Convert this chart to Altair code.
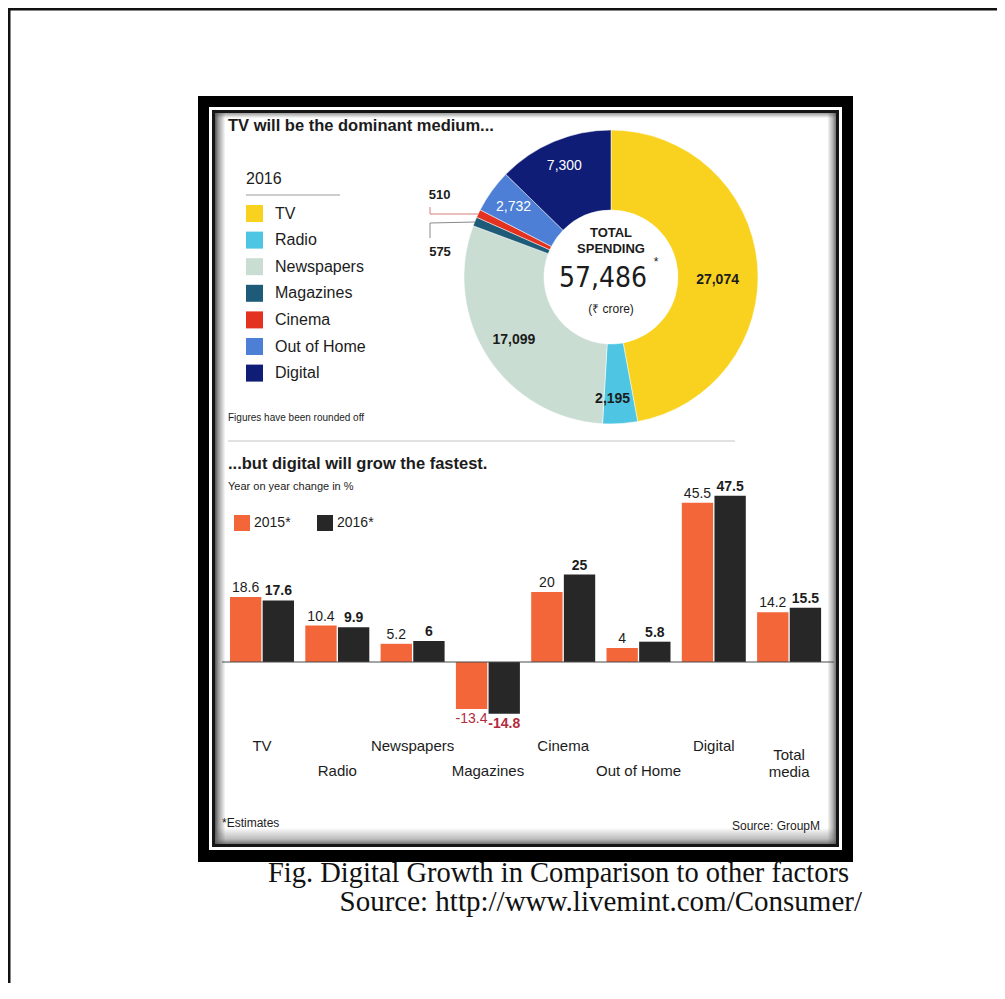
import altair as alt
import pandas as pd

# ---------------- data ----------------
media = ["TV", "Radio", "Newspapers", "Magazines", "Cinema", "Out of Home", "Digital"]
spend_2016 = [27074, 2195, 17099, 575, 510, 2732, 7300]
spend_labels = ["27,074", "2,195", "17,099", "575", "510", "2,732", "7,300"]
media_colors = ["#F9D21F", "#4EC5E2", "#C9DDD3", "#1E5B78", "#E3321F", "#4C7FD5", "#0F1D77"]
total_label = "57,486"

categories = ["TV", "Radio", "Newspapers", "Magazines", "Cinema", "Out of Home", "Digital", "Total media"]
growth_2015 = [18.6, 10.4, 5.2, -13.4, 20, 4, 45.5, 14.2]
growth_2016 = [17.6, 9.9, 6, -14.8, 25, 5.8, 47.5, 15.5]
years = ["2015", "2016"]
year_colors = ["#F3663A", "#272727"]

SANS = "Liberation Sans"
NARROW = "Liberation Sans Narrow, DejaVu Sans Condensed, sans-serif"
SERIF = "Liberation Serif"
DARK = "#1c1c1c"
NEG = "#B32A3C"

donut = pd.DataFrame({"medium": media, "spend": spend_2016, "lbl": spend_labels,
                      "idx": list(range(len(media)))})
bars_df = pd.DataFrame({"cat": categories * 2,
                        "year": [years[0]] * len(categories) + [years[1]] * len(categories),
                        "val": growth_2015 + growth_2016})
one = pd.DataFrame({"k": [0]})


def P(v):
    # page pixel -> chart pixel (page has an 8px margin)
    return v - 8


def box(x1, y1, x2, y2, color):
    return alt.Chart(one).mark_rect(color=color).encode(
        x=alt.value(P(x1)), x2=alt.value(P(x2)), y=alt.value(P(y1)), y2=alt.value(P(y2)))


def rule(x1, y1, x2, y2, color, w=1.0):
    return alt.Chart(one).mark_rule(color=color, strokeWidth=w).encode(
        x=alt.value(P(x1)), x2=alt.value(P(x2)), y=alt.value(P(y1)), y2=alt.value(P(y2)))


def txt(s, x, y, size, weight="normal", color=DARK, align="left", baseline="middle", font=SANS):
    return alt.Chart(one).mark_text(text=s, fontSize=size, fontWeight=weight, color=color,
                                    align=align, baseline=baseline, font=font).encode(
        x=alt.value(P(x)), y=alt.value(P(y)))


layers = []

# page borders (left and top)
layers.append(box(8, 8, 10.5, 990, "#111111"))
layers.append(box(8, 8, 997, 10.5, "#111111"))

# picture frame
layers.append(box(198, 96, 853, 862, "#000000"))
layers.append(box(209, 107, 842, 850, "#ffffff"))
layers.append(box(212, 110, 839, 847, "#151515"))
hgrad = {"gradient": "linear", "x1": 0, "y1": 0, "x2": 1, "y2": 0,
         "stops": [{"offset": 0, "color": "#555555"}, {"offset": 0.006, "color": "#a2a2a2"},
                   {"offset": 0.017, "color": "#ffffff"}, {"offset": 0.986, "color": "#ffffff"},
                   {"offset": 0.995, "color": "#b0b0b0"}, {"offset": 1, "color": "#707070"}]}
vgrad = {"gradient": "linear", "x1": 0, "y1": 0, "x2": 0, "y2": 1,
         "stops": [{"offset": 0, "color": "rgba(90,90,90,0.6)"}, {"offset": 0.007, "color": "rgba(90,90,90,0)"},
                   {"offset": 0.978, "color": "rgba(90,90,90,0)"},
                   {"offset": 0.993, "color": "rgba(110,110,110,0.45)"},
                   {"offset": 1, "color": "rgba(80,80,80,0.8)"}]}
layers.append(alt.Chart(one).mark_rect(color=hgrad).encode(
    x=alt.value(P(215)), x2=alt.value(P(836)), y=alt.value(P(113)), y2=alt.value(P(844))))
layers.append(alt.Chart(one).mark_rect(color=vgrad).encode(
    x=alt.value(P(215)), x2=alt.value(P(836)), y=alt.value(P(113)), y2=alt.value(P(844))))

# ---------------- top: donut ----------------
layers.append(txt("TV will be the dominant medium...", 228, 126, 16.5, weight="bold"))
layers.append(rule(246, 195, 340, 195, "#9a9a9a", 1))
layers.append(txt("Figures have been rounded off", 228, 418, 10))

theta_scale = alt.Scale(domain=[0, sum(spend_2016)])
CX, CY = P(611), P(277)

arcs = alt.Chart(donut).mark_arc(outerRadius=147, innerRadius=67, stroke="white",
                                 strokeWidth=0.5).encode(
    theta=alt.Theta("spend:Q", stack=True, scale=theta_scale),
    order=alt.Order("idx:Q"),
    color=alt.Color("medium:N", scale=alt.Scale(domain=media, range=media_colors),
                    legend=alt.Legend(orient="none", legendX=P(246), legendY=P(171),
                                      title="2016", titleFont=SANS, titleFontSize=16,
                                      titleFontWeight="normal", titleColor=DARK, titlePadding=18,
                                      symbolType="square", symbolSize=289, symbolStrokeWidth=0,
                                      symbolOpacity=1, labelFont=SANS, labelFontSize=16,
                                      labelColor=DARK, labelOffset=12, rowPadding=9.6, padding=0)),
    x=alt.value(CX), y=alt.value(CY),
)
layers.append(arcs)

lab_base = alt.Chart(donut).transform_window(
    cum="sum(spend)", sort=[alt.SortField("idx", order="ascending")]
).transform_calculate(mid="datum.cum - datum.spend / 2")


def arc_label(names, radius, color, weight, size=14, dx=0, dy=0):
    return lab_base.transform_filter(
        alt.FieldOneOfPredicate(field="medium", oneOf=names)
    ).mark_text(fontSize=size, fontWeight=weight, color=color, font=SANS, dx=dx, dy=dy,
                align="center", baseline="middle").encode(
        theta=alt.Theta("mid:Q", stack=False, scale=theta_scale),
        radius=alt.value(radius), text="lbl:N",
        x=alt.value(CX), y=alt.value(CY))


layers.append(arc_label(["TV"], 107, DARK, "bold", dy=13))
layers.append(arc_label(["Newspapers"], 116, DARK, "bold"))
layers.append(arc_label(["Radio"], 122, DARK, "bold", dx=-6))
layers.append(arc_label(["Digital", "Out of Home"], 120, "white", "normal"))
layers.append(arc_label(["Cinema"], 190, DARK, "bold", size=13))
layers.append(lab_base.transform_filter(alt.datum.medium == "Magazines").mark_text(
    fontSize=13, fontWeight="bold", color=DARK, font=SANS, align="center").encode(
    text="lbl:N", x=alt.value(P(440)), y=alt.value(P(252))))

# leader lines for the two thin slices
layers.append(rule(430, 207, 430, 214, "#d98080", 1))
layers.append(rule(430, 214, 478, 214, "#d98080", 1.2))
layers.append(rule(430, 223, 430, 238, "#8a8a8a", 1))
layers.append(rule(430, 223, 475, 222, "#8a8a8a", 1.2))

# centre of the donut
layers.append(txt("TOTAL", 611, 233, 13, weight="bold", align="center"))
layers.append(txt("SPENDING", 611, 249, 13, weight="bold", align="center"))
layers.append(txt(total_label, 603, 279, 28, align="center", font=NARROW))
layers.append(txt("*", 656, 262, 12, align="center"))
layers.append(txt("(\u20b9 crore)", 611, 309, 12, align="center"))

# separator
layers.append(rule(228, 441, 735, 441, "#c4c4c4", 1))

# ---------------- bottom: grouped bars ----------------
layers.append(txt("...but digital will grow the fastest.", 228, 464, 16.5, weight="bold"))
layers.append(txt("Year on year change in %", 228, 487, 11))

xscale = alt.Scale(domain=categories, range=[P(224.35), P(826.75)], paddingInner=0.15,
                   paddingOuter=0.075)
yscale = alt.Scale(domain=[-20, 50], range=[P(662) + 70, P(662) - 175], nice=False, zero=False)
X = alt.X("cat:N", scale=xscale, axis=None, sort=categories)
XO = alt.XOffset("year:N", scale=alt.Scale(domain=years, paddingInner=0.04))
Y = alt.Y("val:Q", scale=yscale, axis=None)

bars = alt.Chart(bars_df).mark_bar().encode(
    x=X, xOffset=XO, y=Y,
    color=alt.Color("year:N", scale=alt.Scale(domain=years, range=year_colors),
                    legend=alt.Legend(orient="none", legendX=P(234), legendY=P(515),
                                      direction="horizontal", title=None, symbolType="square",
                                      symbolSize=256, symbolStrokeWidth=0, symbolOpacity=1,
                                      labelFont=SANS, labelFontSize=14, labelColor=DARK,
                                      labelExpr="datum.label + '*'", columnPadding=26,
                                      labelOffset=4, padding=0)),
)
layers.append(bars)

zero = alt.Chart(one).mark_rule(color="#4a4a4a", strokeWidth=1.2).encode(
    y=alt.Y(datum=0, scale=yscale, axis=None), x=alt.value(P(222)), x2=alt.value(P(834)))
layers.append(zero)

vbase = alt.Chart(bars_df).transform_calculate(lbl="toString(datum.val)")


def val_labels(year, positive, weight):
    cond = (alt.datum.val >= 0) if positive else (alt.datum.val < 0)
    return vbase.transform_filter(alt.datum.year == year).transform_filter(cond).mark_text(
        font=SANS, fontSize=14, fontWeight=weight, color=DARK if positive else NEG,
        baseline="bottom" if positive else "top", dy=-2 if positive else 3,
        align="center").encode(x=X, xOffset=XO, y=Y, text="lbl:N")


layers.append(val_labels("2015", True, "normal"))
layers.append(val_labels("2016", True, "bold"))
layers.append(val_labels("2015", False, "normal"))
layers.append(val_labels("2016", False, "bold"))

cats_df = pd.DataFrame({"cat": categories})
top_row = categories[0:7:2]
bottom_row = categories[1:7:2]
layers.append(alt.Chart(cats_df).transform_filter(
    alt.FieldOneOfPredicate(field="cat", oneOf=top_row)).mark_text(
    font=SANS, fontSize=15, color=DARK, baseline="middle").encode(
    x=X, y=alt.value(P(746)), text="cat:N"))
layers.append(alt.Chart(cats_df).transform_filter(
    alt.FieldOneOfPredicate(field="cat", oneOf=bottom_row)).mark_text(
    font=SANS, fontSize=15, color=DARK, baseline="middle").encode(
    x=X, y=alt.value(P(771)), text="cat:N"))
layers.append(alt.Chart(cats_df).transform_filter(alt.datum.cat == categories[-1]).mark_text(
    font=SANS, fontSize=15, color=DARK, baseline="middle", lineBreak=" ", lineHeight=17).encode(
    x=X, y=alt.value(P(755)), text="cat:N"))

layers.append(txt("*Estimates", 222, 823, 12))
layers.append(txt("Source: GroupM", 820, 826, 12, align="right"))

# caption below the picture
layers.append(txt("Fig. Digital Growth in Comparison to other factors", 849, 882, 28.5,
                  align="right", baseline="alphabetic", font=SERIF, color="#111111"))
layers.append(txt("Source: http://www.livemint.com/Consumer/", 862, 911, 29,
                  align="right", baseline="alphabetic", font=SERIF, color="#111111"))

chart = alt.layer(*layers).resolve_scale(color="independent").properties(
    width=989, height=975, autosize=alt.AutoSizeParams(type="none"), padding=0,
    background="white",
).configure_view(stroke=None)

chart.save("out.html", embed_options={"renderer": "svg", "actions": False})
